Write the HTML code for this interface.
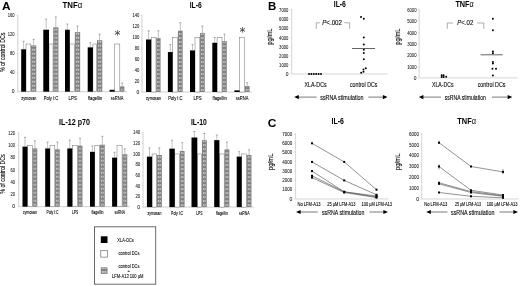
<!DOCTYPE html>
<html lang="en"><head><meta charset="utf-8"><title>Figure</title>
<style>
html,body{margin:0;padding:0;background:#fff;}
body{width:520px;height:286px;overflow:hidden;}
svg{display:block;font-family:"Liberation Sans", sans-serif;}
</style></head><body>
<svg width="520" height="286" viewBox="0 0 520 286">
<rect width="520" height="286" fill="#fff"/>
<g filter="url(#soft)">
<text x="1.90" y="9.60" font-size="10.8" text-anchor="start" font-weight="bold" fill="#000" textLength="8.60" lengthAdjust="spacingAndGlyphs">A</text>
<text x="268.00" y="9.60" font-size="10.8" text-anchor="start" font-weight="bold" fill="#000" textLength="8.30" lengthAdjust="spacingAndGlyphs">B</text>
<text x="267.70" y="127.30" font-size="10.6" text-anchor="start" font-weight="bold" fill="#000" textLength="8.60" lengthAdjust="spacingAndGlyphs">C</text>
<text x="62.50" y="7.50" font-size="8.3" font-weight="bold" fill="#000" textLength="19.80" lengthAdjust="spacingAndGlyphs">TNF<tspan font-weight="normal">&#945;</tspan></text>
<line x1="17.80" y1="14.90" x2="17.80" y2="91.70" stroke="#bdbdbd" stroke-width="0.7"/>
<line x1="17.80" y1="91.70" x2="127.00" y2="91.70" stroke="#bdbdbd" stroke-width="0.7"/>
<line x1="16.60" y1="91.70" x2="17.80" y2="91.70" stroke="#bdbdbd" stroke-width="0.5"/>
<text x="14.60" y="93.40" font-size="5.0" text-anchor="end" font-weight="normal" fill="#111" stroke="#111" stroke-width="0.04">0</text>
<line x1="16.60" y1="72.62" x2="17.80" y2="72.62" stroke="#bdbdbd" stroke-width="0.5"/>
<text x="14.60" y="74.33" font-size="5.0" text-anchor="end" font-weight="normal" fill="#111" textLength="4.53" lengthAdjust="spacingAndGlyphs" stroke="#111" stroke-width="0.04">40</text>
<line x1="16.60" y1="53.55" x2="17.80" y2="53.55" stroke="#bdbdbd" stroke-width="0.5"/>
<text x="14.60" y="55.25" font-size="5.0" text-anchor="end" font-weight="normal" fill="#111" textLength="4.53" lengthAdjust="spacingAndGlyphs" stroke="#111" stroke-width="0.04">80</text>
<line x1="16.60" y1="34.48" x2="17.80" y2="34.48" stroke="#bdbdbd" stroke-width="0.5"/>
<text x="14.60" y="36.18" font-size="5.0" text-anchor="end" font-weight="normal" fill="#111" textLength="6.80" lengthAdjust="spacingAndGlyphs" stroke="#111" stroke-width="0.04">120</text>
<line x1="16.60" y1="15.40" x2="17.80" y2="15.40" stroke="#bdbdbd" stroke-width="0.5"/>
<text x="14.60" y="17.10" font-size="5.0" text-anchor="end" font-weight="normal" fill="#111" textLength="6.80" lengthAdjust="spacingAndGlyphs" stroke="#111" stroke-width="0.04">160</text>
<rect x="26.00" y="44.01" width="4.80" height="47.69" fill="#fff" stroke="#6e6e6e" stroke-width="0.5"/>
<rect x="21.20" y="49.26" width="4.80" height="42.44" fill="#000"/>
<rect x="31.05" y="45.44" width="5.20" height="46.26" fill="#7f7f7f"/>
<rect x="32.05" y="88.70" width="3.20" height="2.00" fill="#c4c4c4"/>
<rect x="32.05" y="84.70" width="3.20" height="2.00" fill="#c4c4c4"/>
<rect x="32.05" y="80.70" width="3.20" height="2.00" fill="#c4c4c4"/>
<rect x="32.05" y="76.70" width="3.20" height="2.00" fill="#c4c4c4"/>
<rect x="32.05" y="72.70" width="3.20" height="2.00" fill="#c4c4c4"/>
<rect x="32.05" y="68.70" width="3.20" height="2.00" fill="#c4c4c4"/>
<rect x="32.05" y="64.70" width="3.20" height="2.00" fill="#c4c4c4"/>
<rect x="32.05" y="60.70" width="3.20" height="2.00" fill="#c4c4c4"/>
<rect x="32.05" y="56.70" width="3.20" height="2.00" fill="#c4c4c4"/>
<rect x="32.05" y="52.70" width="3.20" height="2.00" fill="#c4c4c4"/>
<rect x="32.05" y="48.70" width="3.20" height="2.00" fill="#c4c4c4"/>
<rect x="32.05" y="45.94" width="3.20" height="0.76" fill="#c4c4c4"/>
<rect x="33.35" y="45.44" width="0.6" height="46.26" fill="#8a8a8a"/>
<line x1="23.60" y1="49.26" x2="23.60" y2="41.30" stroke="#808080" stroke-width="0.5"/>
<line x1="22.60" y1="41.30" x2="24.60" y2="41.30" stroke="#707070" stroke-width="0.6"/>
<line x1="33.65" y1="45.44" x2="33.65" y2="39.40" stroke="#808080" stroke-width="0.5"/>
<line x1="32.65" y1="39.40" x2="34.65" y2="39.40" stroke="#707070" stroke-width="0.6"/>
<text x="28.85" y="100.00" font-size="5.0" text-anchor="middle" font-weight="normal" fill="#000" textLength="15.00" lengthAdjust="spacingAndGlyphs" stroke="#000" stroke-width="0.1">zymosan</text>
<rect x="49.00" y="44.01" width="4.00" height="47.69" fill="#fff" stroke="#6e6e6e" stroke-width="0.5"/>
<rect x="43.30" y="29.71" width="5.70" height="61.99" fill="#000"/>
<rect x="53.25" y="27.32" width="5.20" height="64.38" fill="#7f7f7f"/>
<rect x="54.25" y="88.70" width="3.20" height="2.00" fill="#c4c4c4"/>
<rect x="54.25" y="84.70" width="3.20" height="2.00" fill="#c4c4c4"/>
<rect x="54.25" y="80.70" width="3.20" height="2.00" fill="#c4c4c4"/>
<rect x="54.25" y="76.70" width="3.20" height="2.00" fill="#c4c4c4"/>
<rect x="54.25" y="72.70" width="3.20" height="2.00" fill="#c4c4c4"/>
<rect x="54.25" y="68.70" width="3.20" height="2.00" fill="#c4c4c4"/>
<rect x="54.25" y="64.70" width="3.20" height="2.00" fill="#c4c4c4"/>
<rect x="54.25" y="60.70" width="3.20" height="2.00" fill="#c4c4c4"/>
<rect x="54.25" y="56.70" width="3.20" height="2.00" fill="#c4c4c4"/>
<rect x="54.25" y="52.70" width="3.20" height="2.00" fill="#c4c4c4"/>
<rect x="54.25" y="48.70" width="3.20" height="2.00" fill="#c4c4c4"/>
<rect x="54.25" y="44.70" width="3.20" height="2.00" fill="#c4c4c4"/>
<rect x="54.25" y="40.70" width="3.20" height="2.00" fill="#c4c4c4"/>
<rect x="54.25" y="36.70" width="3.20" height="2.00" fill="#c4c4c4"/>
<rect x="54.25" y="32.70" width="3.20" height="2.00" fill="#c4c4c4"/>
<rect x="54.25" y="28.70" width="3.20" height="2.00" fill="#c4c4c4"/>
<rect x="55.55" y="27.32" width="0.6" height="64.38" fill="#8a8a8a"/>
<line x1="46.15" y1="29.71" x2="46.15" y2="19.20" stroke="#808080" stroke-width="0.5"/>
<line x1="45.15" y1="19.20" x2="47.15" y2="19.20" stroke="#707070" stroke-width="0.6"/>
<line x1="55.85" y1="27.32" x2="55.85" y2="17.00" stroke="#808080" stroke-width="0.5"/>
<line x1="54.85" y1="17.00" x2="56.85" y2="17.00" stroke="#707070" stroke-width="0.6"/>
<text x="51.00" y="100.00" font-size="5.0" text-anchor="middle" font-weight="normal" fill="#000" textLength="14.40" lengthAdjust="spacingAndGlyphs" stroke="#000" stroke-width="0.1">Poly I:C</text>
<rect x="69.80" y="44.01" width="4.80" height="47.69" fill="#fff" stroke="#6e6e6e" stroke-width="0.5"/>
<rect x="65.00" y="29.71" width="4.80" height="61.99" fill="#000"/>
<rect x="74.85" y="32.09" width="5.30" height="59.61" fill="#7f7f7f"/>
<rect x="75.85" y="88.70" width="3.30" height="2.00" fill="#c4c4c4"/>
<rect x="75.85" y="84.70" width="3.30" height="2.00" fill="#c4c4c4"/>
<rect x="75.85" y="80.70" width="3.30" height="2.00" fill="#c4c4c4"/>
<rect x="75.85" y="76.70" width="3.30" height="2.00" fill="#c4c4c4"/>
<rect x="75.85" y="72.70" width="3.30" height="2.00" fill="#c4c4c4"/>
<rect x="75.85" y="68.70" width="3.30" height="2.00" fill="#c4c4c4"/>
<rect x="75.85" y="64.70" width="3.30" height="2.00" fill="#c4c4c4"/>
<rect x="75.85" y="60.70" width="3.30" height="2.00" fill="#c4c4c4"/>
<rect x="75.85" y="56.70" width="3.30" height="2.00" fill="#c4c4c4"/>
<rect x="75.85" y="52.70" width="3.30" height="2.00" fill="#c4c4c4"/>
<rect x="75.85" y="48.70" width="3.30" height="2.00" fill="#c4c4c4"/>
<rect x="75.85" y="44.70" width="3.30" height="2.00" fill="#c4c4c4"/>
<rect x="75.85" y="40.70" width="3.30" height="2.00" fill="#c4c4c4"/>
<rect x="75.85" y="36.70" width="3.30" height="2.00" fill="#c4c4c4"/>
<rect x="75.85" y="32.70" width="3.30" height="2.00" fill="#c4c4c4"/>
<rect x="77.20" y="32.09" width="0.6" height="59.61" fill="#8a8a8a"/>
<line x1="67.40" y1="29.71" x2="67.40" y2="24.00" stroke="#808080" stroke-width="0.5"/>
<line x1="66.40" y1="24.00" x2="68.40" y2="24.00" stroke="#707070" stroke-width="0.6"/>
<line x1="77.50" y1="32.09" x2="77.50" y2="26.00" stroke="#808080" stroke-width="0.5"/>
<line x1="76.50" y1="26.00" x2="78.50" y2="26.00" stroke="#707070" stroke-width="0.6"/>
<text x="72.70" y="100.00" font-size="5.0" text-anchor="middle" font-weight="normal" fill="#000" textLength="8.20" lengthAdjust="spacingAndGlyphs" stroke="#000" stroke-width="0.1">LPS</text>
<rect x="92.90" y="44.01" width="3.80" height="47.69" fill="#fff" stroke="#6e6e6e" stroke-width="0.5"/>
<rect x="87.70" y="47.35" width="5.20" height="44.35" fill="#000"/>
<rect x="96.95" y="40.20" width="5.30" height="51.50" fill="#7f7f7f"/>
<rect x="97.95" y="88.70" width="3.30" height="2.00" fill="#c4c4c4"/>
<rect x="97.95" y="84.70" width="3.30" height="2.00" fill="#c4c4c4"/>
<rect x="97.95" y="80.70" width="3.30" height="2.00" fill="#c4c4c4"/>
<rect x="97.95" y="76.70" width="3.30" height="2.00" fill="#c4c4c4"/>
<rect x="97.95" y="72.70" width="3.30" height="2.00" fill="#c4c4c4"/>
<rect x="97.95" y="68.70" width="3.30" height="2.00" fill="#c4c4c4"/>
<rect x="97.95" y="64.70" width="3.30" height="2.00" fill="#c4c4c4"/>
<rect x="97.95" y="60.70" width="3.30" height="2.00" fill="#c4c4c4"/>
<rect x="97.95" y="56.70" width="3.30" height="2.00" fill="#c4c4c4"/>
<rect x="97.95" y="52.70" width="3.30" height="2.00" fill="#c4c4c4"/>
<rect x="97.95" y="48.70" width="3.30" height="2.00" fill="#c4c4c4"/>
<rect x="97.95" y="44.70" width="3.30" height="2.00" fill="#c4c4c4"/>
<rect x="97.95" y="40.70" width="3.30" height="2.00" fill="#c4c4c4"/>
<rect x="99.30" y="40.20" width="0.6" height="51.50" fill="#8a8a8a"/>
<line x1="90.30" y1="47.35" x2="90.30" y2="42.70" stroke="#808080" stroke-width="0.5"/>
<line x1="89.30" y1="42.70" x2="91.30" y2="42.70" stroke="#707070" stroke-width="0.6"/>
<line x1="99.60" y1="40.20" x2="99.60" y2="34.20" stroke="#808080" stroke-width="0.5"/>
<line x1="98.60" y1="34.20" x2="100.60" y2="34.20" stroke="#707070" stroke-width="0.6"/>
<text x="95.10" y="100.00" font-size="5.0" text-anchor="middle" font-weight="normal" fill="#000" textLength="14.20" lengthAdjust="spacingAndGlyphs" stroke="#000" stroke-width="0.1">flagellin</text>
<rect x="114.60" y="44.01" width="5.20" height="47.69" fill="#fff" stroke="#6e6e6e" stroke-width="0.5"/>
<rect x="109.60" y="89.79" width="5.00" height="1.91" fill="#000"/>
<rect x="120.05" y="86.45" width="4.30" height="5.25" fill="#7f7f7f"/>
<rect x="121.05" y="88.70" width="2.30" height="2.00" fill="#c4c4c4"/>
<rect x="121.90" y="86.45" width="0.6" height="5.25" fill="#8a8a8a"/>
<line x1="122.20" y1="86.45" x2="122.20" y2="83.00" stroke="#808080" stroke-width="0.5"/>
<line x1="121.20" y1="83.00" x2="123.20" y2="83.00" stroke="#707070" stroke-width="0.6"/>
<text x="117.10" y="100.00" font-size="5.0" text-anchor="middle" font-weight="normal" fill="#000" textLength="12.60" lengthAdjust="spacingAndGlyphs" stroke="#000" stroke-width="0.1">ssRNA</text>
<text x="117.5" y="38.6" font-size="12" text-anchor="middle" fill="#3a3a3a" font-family="DejaVu Sans, sans-serif">*</text>
<text x="5.30" y="52.30" font-size="6.4" text-anchor="middle" font-weight="normal" fill="#000" textLength="39.50" lengthAdjust="spacingAndGlyphs" transform="rotate(-90 5.30 52.30)" stroke="#000" stroke-width="0.1">% of control DCs</text>
<text x="189.70" y="7.60" font-size="8.3" font-weight="bold" fill="#000" textLength="12.00" lengthAdjust="spacingAndGlyphs">IL-6</text>
<line x1="142.00" y1="14.90" x2="142.00" y2="92.00" stroke="#bdbdbd" stroke-width="0.7"/>
<line x1="142.00" y1="92.00" x2="252.00" y2="92.00" stroke="#bdbdbd" stroke-width="0.7"/>
<line x1="140.80" y1="92.00" x2="142.00" y2="92.00" stroke="#bdbdbd" stroke-width="0.5"/>
<text x="139.40" y="93.70" font-size="5.0" text-anchor="end" font-weight="normal" fill="#111" stroke="#111" stroke-width="0.04">0</text>
<line x1="140.80" y1="81.06" x2="142.00" y2="81.06" stroke="#bdbdbd" stroke-width="0.5"/>
<text x="139.40" y="82.76" font-size="5.0" text-anchor="end" font-weight="normal" fill="#111" textLength="4.67" lengthAdjust="spacingAndGlyphs" stroke="#111" stroke-width="0.04">20</text>
<line x1="140.80" y1="70.11" x2="142.00" y2="70.11" stroke="#bdbdbd" stroke-width="0.5"/>
<text x="139.40" y="71.81" font-size="5.0" text-anchor="end" font-weight="normal" fill="#111" textLength="4.67" lengthAdjust="spacingAndGlyphs" stroke="#111" stroke-width="0.04">40</text>
<line x1="140.80" y1="59.17" x2="142.00" y2="59.17" stroke="#bdbdbd" stroke-width="0.5"/>
<text x="139.40" y="60.87" font-size="5.0" text-anchor="end" font-weight="normal" fill="#111" textLength="4.67" lengthAdjust="spacingAndGlyphs" stroke="#111" stroke-width="0.04">60</text>
<line x1="140.80" y1="48.23" x2="142.00" y2="48.23" stroke="#bdbdbd" stroke-width="0.5"/>
<text x="139.40" y="49.93" font-size="5.0" text-anchor="end" font-weight="normal" fill="#111" textLength="4.67" lengthAdjust="spacingAndGlyphs" stroke="#111" stroke-width="0.04">80</text>
<line x1="140.80" y1="37.29" x2="142.00" y2="37.29" stroke="#bdbdbd" stroke-width="0.5"/>
<text x="139.40" y="38.99" font-size="5.0" text-anchor="end" font-weight="normal" fill="#111" textLength="7.00" lengthAdjust="spacingAndGlyphs" stroke="#111" stroke-width="0.04">100</text>
<line x1="140.80" y1="26.34" x2="142.00" y2="26.34" stroke="#bdbdbd" stroke-width="0.5"/>
<text x="139.40" y="28.04" font-size="5.0" text-anchor="end" font-weight="normal" fill="#111" textLength="7.00" lengthAdjust="spacingAndGlyphs" stroke="#111" stroke-width="0.04">120</text>
<line x1="140.80" y1="15.40" x2="142.00" y2="15.40" stroke="#bdbdbd" stroke-width="0.5"/>
<text x="139.40" y="17.10" font-size="5.0" text-anchor="end" font-weight="normal" fill="#111" textLength="7.00" lengthAdjust="spacingAndGlyphs" stroke="#111" stroke-width="0.04">140</text>
<rect x="151.20" y="37.29" width="4.80" height="54.71" fill="#fff" stroke="#6e6e6e" stroke-width="0.5"/>
<rect x="146.00" y="39.47" width="5.20" height="52.53" fill="#000"/>
<rect x="156.25" y="38.00" width="4.30" height="54.00" fill="#7f7f7f"/>
<rect x="157.25" y="89.00" width="2.30" height="2.00" fill="#c4c4c4"/>
<rect x="157.25" y="85.00" width="2.30" height="2.00" fill="#c4c4c4"/>
<rect x="157.25" y="81.00" width="2.30" height="2.00" fill="#c4c4c4"/>
<rect x="157.25" y="77.00" width="2.30" height="2.00" fill="#c4c4c4"/>
<rect x="157.25" y="73.00" width="2.30" height="2.00" fill="#c4c4c4"/>
<rect x="157.25" y="69.00" width="2.30" height="2.00" fill="#c4c4c4"/>
<rect x="157.25" y="65.00" width="2.30" height="2.00" fill="#c4c4c4"/>
<rect x="157.25" y="61.00" width="2.30" height="2.00" fill="#c4c4c4"/>
<rect x="157.25" y="57.00" width="2.30" height="2.00" fill="#c4c4c4"/>
<rect x="157.25" y="53.00" width="2.30" height="2.00" fill="#c4c4c4"/>
<rect x="157.25" y="49.00" width="2.30" height="2.00" fill="#c4c4c4"/>
<rect x="157.25" y="45.00" width="2.30" height="2.00" fill="#c4c4c4"/>
<rect x="157.25" y="41.00" width="2.30" height="2.00" fill="#c4c4c4"/>
<rect x="157.25" y="38.50" width="2.30" height="0.50" fill="#c4c4c4"/>
<rect x="158.10" y="38.00" width="0.6" height="54.00" fill="#8a8a8a"/>
<line x1="148.60" y1="39.47" x2="148.60" y2="30.80" stroke="#808080" stroke-width="0.5"/>
<line x1="147.60" y1="30.80" x2="149.60" y2="30.80" stroke="#707070" stroke-width="0.6"/>
<line x1="158.40" y1="38.00" x2="158.40" y2="30.80" stroke="#808080" stroke-width="0.5"/>
<line x1="157.40" y1="30.80" x2="159.40" y2="30.80" stroke="#707070" stroke-width="0.6"/>
<text x="153.40" y="100.00" font-size="5.0" text-anchor="middle" font-weight="normal" fill="#000" textLength="15.00" lengthAdjust="spacingAndGlyphs" stroke="#000" stroke-width="0.1">zymosan</text>
<rect x="172.70" y="37.29" width="5.00" height="54.71" fill="#fff" stroke="#6e6e6e" stroke-width="0.5"/>
<rect x="167.90" y="52.06" width="4.80" height="39.94" fill="#000"/>
<rect x="177.95" y="30.72" width="4.70" height="61.28" fill="#7f7f7f"/>
<rect x="178.95" y="89.00" width="2.70" height="2.00" fill="#c4c4c4"/>
<rect x="178.95" y="85.00" width="2.70" height="2.00" fill="#c4c4c4"/>
<rect x="178.95" y="81.00" width="2.70" height="2.00" fill="#c4c4c4"/>
<rect x="178.95" y="77.00" width="2.70" height="2.00" fill="#c4c4c4"/>
<rect x="178.95" y="73.00" width="2.70" height="2.00" fill="#c4c4c4"/>
<rect x="178.95" y="69.00" width="2.70" height="2.00" fill="#c4c4c4"/>
<rect x="178.95" y="65.00" width="2.70" height="2.00" fill="#c4c4c4"/>
<rect x="178.95" y="61.00" width="2.70" height="2.00" fill="#c4c4c4"/>
<rect x="178.95" y="57.00" width="2.70" height="2.00" fill="#c4c4c4"/>
<rect x="178.95" y="53.00" width="2.70" height="2.00" fill="#c4c4c4"/>
<rect x="178.95" y="49.00" width="2.70" height="2.00" fill="#c4c4c4"/>
<rect x="178.95" y="45.00" width="2.70" height="2.00" fill="#c4c4c4"/>
<rect x="178.95" y="41.00" width="2.70" height="2.00" fill="#c4c4c4"/>
<rect x="178.95" y="37.00" width="2.70" height="2.00" fill="#c4c4c4"/>
<rect x="178.95" y="33.00" width="2.70" height="2.00" fill="#c4c4c4"/>
<rect x="180.00" y="30.72" width="0.6" height="61.28" fill="#8a8a8a"/>
<line x1="170.30" y1="52.06" x2="170.30" y2="44.60" stroke="#808080" stroke-width="0.5"/>
<line x1="169.30" y1="44.60" x2="171.30" y2="44.60" stroke="#707070" stroke-width="0.6"/>
<line x1="180.30" y1="30.72" x2="180.30" y2="22.70" stroke="#808080" stroke-width="0.5"/>
<line x1="179.30" y1="22.70" x2="181.30" y2="22.70" stroke="#707070" stroke-width="0.6"/>
<text x="175.40" y="100.00" font-size="5.0" text-anchor="middle" font-weight="normal" fill="#000" textLength="14.40" lengthAdjust="spacingAndGlyphs" stroke="#000" stroke-width="0.1">Poly I:C</text>
<rect x="195.00" y="37.29" width="4.80" height="54.71" fill="#fff" stroke="#6e6e6e" stroke-width="0.5"/>
<rect x="190.00" y="50.42" width="5.00" height="41.58" fill="#000"/>
<rect x="200.05" y="32.91" width="4.70" height="59.09" fill="#7f7f7f"/>
<rect x="201.05" y="89.00" width="2.70" height="2.00" fill="#c4c4c4"/>
<rect x="201.05" y="85.00" width="2.70" height="2.00" fill="#c4c4c4"/>
<rect x="201.05" y="81.00" width="2.70" height="2.00" fill="#c4c4c4"/>
<rect x="201.05" y="77.00" width="2.70" height="2.00" fill="#c4c4c4"/>
<rect x="201.05" y="73.00" width="2.70" height="2.00" fill="#c4c4c4"/>
<rect x="201.05" y="69.00" width="2.70" height="2.00" fill="#c4c4c4"/>
<rect x="201.05" y="65.00" width="2.70" height="2.00" fill="#c4c4c4"/>
<rect x="201.05" y="61.00" width="2.70" height="2.00" fill="#c4c4c4"/>
<rect x="201.05" y="57.00" width="2.70" height="2.00" fill="#c4c4c4"/>
<rect x="201.05" y="53.00" width="2.70" height="2.00" fill="#c4c4c4"/>
<rect x="201.05" y="49.00" width="2.70" height="2.00" fill="#c4c4c4"/>
<rect x="201.05" y="45.00" width="2.70" height="2.00" fill="#c4c4c4"/>
<rect x="201.05" y="41.00" width="2.70" height="2.00" fill="#c4c4c4"/>
<rect x="201.05" y="37.00" width="2.70" height="2.00" fill="#c4c4c4"/>
<rect x="201.05" y="33.41" width="2.70" height="1.59" fill="#c4c4c4"/>
<rect x="202.10" y="32.91" width="0.6" height="59.09" fill="#8a8a8a"/>
<line x1="192.50" y1="50.42" x2="192.50" y2="44.60" stroke="#808080" stroke-width="0.5"/>
<line x1="191.50" y1="44.60" x2="193.50" y2="44.60" stroke="#707070" stroke-width="0.6"/>
<line x1="202.40" y1="32.91" x2="202.40" y2="26.00" stroke="#808080" stroke-width="0.5"/>
<line x1="201.40" y1="26.00" x2="203.40" y2="26.00" stroke="#707070" stroke-width="0.6"/>
<text x="197.50" y="100.00" font-size="5.0" text-anchor="middle" font-weight="normal" fill="#000" textLength="8.20" lengthAdjust="spacingAndGlyphs" stroke="#000" stroke-width="0.1">LPS</text>
<rect x="217.10" y="37.29" width="4.90" height="54.71" fill="#fff" stroke="#6e6e6e" stroke-width="0.5"/>
<rect x="212.30" y="42.76" width="4.80" height="49.24" fill="#000"/>
<rect x="222.25" y="41.12" width="4.50" height="50.88" fill="#7f7f7f"/>
<rect x="223.25" y="89.00" width="2.50" height="2.00" fill="#c4c4c4"/>
<rect x="223.25" y="85.00" width="2.50" height="2.00" fill="#c4c4c4"/>
<rect x="223.25" y="81.00" width="2.50" height="2.00" fill="#c4c4c4"/>
<rect x="223.25" y="77.00" width="2.50" height="2.00" fill="#c4c4c4"/>
<rect x="223.25" y="73.00" width="2.50" height="2.00" fill="#c4c4c4"/>
<rect x="223.25" y="69.00" width="2.50" height="2.00" fill="#c4c4c4"/>
<rect x="223.25" y="65.00" width="2.50" height="2.00" fill="#c4c4c4"/>
<rect x="223.25" y="61.00" width="2.50" height="2.00" fill="#c4c4c4"/>
<rect x="223.25" y="57.00" width="2.50" height="2.00" fill="#c4c4c4"/>
<rect x="223.25" y="53.00" width="2.50" height="2.00" fill="#c4c4c4"/>
<rect x="223.25" y="49.00" width="2.50" height="2.00" fill="#c4c4c4"/>
<rect x="223.25" y="45.00" width="2.50" height="2.00" fill="#c4c4c4"/>
<rect x="223.25" y="41.62" width="2.50" height="1.38" fill="#c4c4c4"/>
<rect x="224.20" y="41.12" width="0.6" height="50.88" fill="#8a8a8a"/>
<line x1="214.70" y1="42.76" x2="214.70" y2="37.50" stroke="#808080" stroke-width="0.5"/>
<line x1="213.70" y1="37.50" x2="215.70" y2="37.50" stroke="#707070" stroke-width="0.6"/>
<line x1="224.50" y1="41.12" x2="224.50" y2="34.20" stroke="#808080" stroke-width="0.5"/>
<line x1="223.50" y1="34.20" x2="225.50" y2="34.20" stroke="#707070" stroke-width="0.6"/>
<text x="219.65" y="100.00" font-size="5.0" text-anchor="middle" font-weight="normal" fill="#000" textLength="14.20" lengthAdjust="spacingAndGlyphs" stroke="#000" stroke-width="0.1">flagellin</text>
<rect x="239.60" y="37.29" width="5.00" height="54.71" fill="#fff" stroke="#6e6e6e" stroke-width="0.5"/>
<rect x="234.40" y="90.36" width="5.20" height="1.64" fill="#000"/>
<rect x="244.85" y="85.98" width="4.70" height="6.02" fill="#7f7f7f"/>
<rect x="245.85" y="89.00" width="2.70" height="2.00" fill="#c4c4c4"/>
<rect x="245.85" y="86.48" width="2.70" height="0.52" fill="#c4c4c4"/>
<rect x="246.90" y="85.98" width="0.6" height="6.02" fill="#8a8a8a"/>
<line x1="247.20" y1="85.98" x2="247.20" y2="82.70" stroke="#808080" stroke-width="0.5"/>
<line x1="246.20" y1="82.70" x2="248.20" y2="82.70" stroke="#707070" stroke-width="0.6"/>
<text x="242.10" y="100.00" font-size="5.0" text-anchor="middle" font-weight="normal" fill="#000" textLength="12.60" lengthAdjust="spacingAndGlyphs" stroke="#000" stroke-width="0.1">ssRNA</text>
<text x="242.5" y="35.6" font-size="12" text-anchor="middle" fill="#3a3a3a" font-family="DejaVu Sans, sans-serif">*</text>
<text x="59.10" y="124.50" font-size="8.3" font-weight="bold" fill="#000" textLength="30.80" lengthAdjust="spacingAndGlyphs">IL-12 p70</text>
<line x1="18.70" y1="132.60" x2="18.70" y2="206.70" stroke="#bdbdbd" stroke-width="0.7"/>
<line x1="18.70" y1="206.70" x2="130.00" y2="206.70" stroke="#bdbdbd" stroke-width="0.7"/>
<line x1="17.50" y1="206.70" x2="18.70" y2="206.70" stroke="#bdbdbd" stroke-width="0.5"/>
<text x="15.10" y="208.40" font-size="5.0" text-anchor="end" font-weight="normal" fill="#111" stroke="#111" stroke-width="0.04">0</text>
<line x1="17.50" y1="194.43" x2="18.70" y2="194.43" stroke="#bdbdbd" stroke-width="0.5"/>
<text x="15.10" y="196.13" font-size="5.0" text-anchor="end" font-weight="normal" fill="#111" textLength="4.53" lengthAdjust="spacingAndGlyphs" stroke="#111" stroke-width="0.04">20</text>
<line x1="17.50" y1="182.17" x2="18.70" y2="182.17" stroke="#bdbdbd" stroke-width="0.5"/>
<text x="15.10" y="183.87" font-size="5.0" text-anchor="end" font-weight="normal" fill="#111" textLength="4.53" lengthAdjust="spacingAndGlyphs" stroke="#111" stroke-width="0.04">40</text>
<line x1="17.50" y1="169.90" x2="18.70" y2="169.90" stroke="#bdbdbd" stroke-width="0.5"/>
<text x="15.10" y="171.60" font-size="5.0" text-anchor="end" font-weight="normal" fill="#111" textLength="4.53" lengthAdjust="spacingAndGlyphs" stroke="#111" stroke-width="0.04">60</text>
<line x1="17.50" y1="157.63" x2="18.70" y2="157.63" stroke="#bdbdbd" stroke-width="0.5"/>
<text x="15.10" y="159.33" font-size="5.0" text-anchor="end" font-weight="normal" fill="#111" textLength="4.53" lengthAdjust="spacingAndGlyphs" stroke="#111" stroke-width="0.04">80</text>
<line x1="17.50" y1="145.37" x2="18.70" y2="145.37" stroke="#bdbdbd" stroke-width="0.5"/>
<text x="15.10" y="147.07" font-size="5.0" text-anchor="end" font-weight="normal" fill="#111" textLength="6.80" lengthAdjust="spacingAndGlyphs" stroke="#111" stroke-width="0.04">100</text>
<line x1="17.50" y1="133.10" x2="18.70" y2="133.10" stroke="#bdbdbd" stroke-width="0.5"/>
<text x="15.10" y="134.80" font-size="5.0" text-anchor="end" font-weight="normal" fill="#111" textLength="6.80" lengthAdjust="spacingAndGlyphs" stroke="#111" stroke-width="0.04">120</text>
<rect x="27.50" y="145.37" width="4.80" height="61.33" fill="#fff" stroke="#6e6e6e" stroke-width="0.5"/>
<rect x="22.50" y="146.59" width="5.00" height="60.11" fill="#000"/>
<rect x="32.55" y="148.43" width="4.70" height="58.27" fill="#7f7f7f"/>
<rect x="33.55" y="203.70" width="2.70" height="2.00" fill="#c4c4c4"/>
<rect x="33.55" y="199.70" width="2.70" height="2.00" fill="#c4c4c4"/>
<rect x="33.55" y="195.70" width="2.70" height="2.00" fill="#c4c4c4"/>
<rect x="33.55" y="191.70" width="2.70" height="2.00" fill="#c4c4c4"/>
<rect x="33.55" y="187.70" width="2.70" height="2.00" fill="#c4c4c4"/>
<rect x="33.55" y="183.70" width="2.70" height="2.00" fill="#c4c4c4"/>
<rect x="33.55" y="179.70" width="2.70" height="2.00" fill="#c4c4c4"/>
<rect x="33.55" y="175.70" width="2.70" height="2.00" fill="#c4c4c4"/>
<rect x="33.55" y="171.70" width="2.70" height="2.00" fill="#c4c4c4"/>
<rect x="33.55" y="167.70" width="2.70" height="2.00" fill="#c4c4c4"/>
<rect x="33.55" y="163.70" width="2.70" height="2.00" fill="#c4c4c4"/>
<rect x="33.55" y="159.70" width="2.70" height="2.00" fill="#c4c4c4"/>
<rect x="33.55" y="155.70" width="2.70" height="2.00" fill="#c4c4c4"/>
<rect x="33.55" y="151.70" width="2.70" height="2.00" fill="#c4c4c4"/>
<rect x="33.55" y="148.93" width="2.70" height="0.77" fill="#c4c4c4"/>
<rect x="34.60" y="148.43" width="0.6" height="58.27" fill="#8a8a8a"/>
<line x1="25.00" y1="146.59" x2="25.00" y2="137.30" stroke="#808080" stroke-width="0.5"/>
<line x1="24.00" y1="137.30" x2="26.00" y2="137.30" stroke="#707070" stroke-width="0.6"/>
<line x1="34.90" y1="148.43" x2="34.90" y2="140.80" stroke="#808080" stroke-width="0.5"/>
<line x1="33.90" y1="140.80" x2="35.90" y2="140.80" stroke="#707070" stroke-width="0.6"/>
<text x="30.00" y="214.20" font-size="4.8" text-anchor="middle" font-weight="normal" fill="#000" textLength="13.80" lengthAdjust="spacingAndGlyphs" stroke="#000" stroke-width="0.1">zymosan</text>
<rect x="50.00" y="145.37" width="4.80" height="61.33" fill="#fff" stroke="#6e6e6e" stroke-width="0.5"/>
<rect x="45.20" y="148.43" width="4.80" height="58.27" fill="#000"/>
<rect x="55.05" y="149.35" width="4.70" height="57.35" fill="#7f7f7f"/>
<rect x="56.05" y="203.70" width="2.70" height="2.00" fill="#c4c4c4"/>
<rect x="56.05" y="199.70" width="2.70" height="2.00" fill="#c4c4c4"/>
<rect x="56.05" y="195.70" width="2.70" height="2.00" fill="#c4c4c4"/>
<rect x="56.05" y="191.70" width="2.70" height="2.00" fill="#c4c4c4"/>
<rect x="56.05" y="187.70" width="2.70" height="2.00" fill="#c4c4c4"/>
<rect x="56.05" y="183.70" width="2.70" height="2.00" fill="#c4c4c4"/>
<rect x="56.05" y="179.70" width="2.70" height="2.00" fill="#c4c4c4"/>
<rect x="56.05" y="175.70" width="2.70" height="2.00" fill="#c4c4c4"/>
<rect x="56.05" y="171.70" width="2.70" height="2.00" fill="#c4c4c4"/>
<rect x="56.05" y="167.70" width="2.70" height="2.00" fill="#c4c4c4"/>
<rect x="56.05" y="163.70" width="2.70" height="2.00" fill="#c4c4c4"/>
<rect x="56.05" y="159.70" width="2.70" height="2.00" fill="#c4c4c4"/>
<rect x="56.05" y="155.70" width="2.70" height="2.00" fill="#c4c4c4"/>
<rect x="56.05" y="151.70" width="2.70" height="2.00" fill="#c4c4c4"/>
<rect x="57.10" y="149.35" width="0.6" height="57.35" fill="#8a8a8a"/>
<line x1="47.60" y1="148.43" x2="47.60" y2="142.10" stroke="#808080" stroke-width="0.5"/>
<line x1="46.60" y1="142.10" x2="48.60" y2="142.10" stroke="#707070" stroke-width="0.6"/>
<line x1="57.40" y1="149.35" x2="57.40" y2="142.10" stroke="#808080" stroke-width="0.5"/>
<line x1="56.40" y1="142.10" x2="58.40" y2="142.10" stroke="#707070" stroke-width="0.6"/>
<text x="52.60" y="214.20" font-size="4.8" text-anchor="middle" font-weight="normal" fill="#000" textLength="12.00" lengthAdjust="spacingAndGlyphs" stroke="#000" stroke-width="0.1">Poly I:C</text>
<rect x="72.30" y="145.37" width="5.20" height="61.33" fill="#fff" stroke="#6e6e6e" stroke-width="0.5"/>
<rect x="67.30" y="148.43" width="5.00" height="58.27" fill="#000"/>
<rect x="77.75" y="145.67" width="4.70" height="61.03" fill="#7f7f7f"/>
<rect x="78.75" y="203.70" width="2.70" height="2.00" fill="#c4c4c4"/>
<rect x="78.75" y="199.70" width="2.70" height="2.00" fill="#c4c4c4"/>
<rect x="78.75" y="195.70" width="2.70" height="2.00" fill="#c4c4c4"/>
<rect x="78.75" y="191.70" width="2.70" height="2.00" fill="#c4c4c4"/>
<rect x="78.75" y="187.70" width="2.70" height="2.00" fill="#c4c4c4"/>
<rect x="78.75" y="183.70" width="2.70" height="2.00" fill="#c4c4c4"/>
<rect x="78.75" y="179.70" width="2.70" height="2.00" fill="#c4c4c4"/>
<rect x="78.75" y="175.70" width="2.70" height="2.00" fill="#c4c4c4"/>
<rect x="78.75" y="171.70" width="2.70" height="2.00" fill="#c4c4c4"/>
<rect x="78.75" y="167.70" width="2.70" height="2.00" fill="#c4c4c4"/>
<rect x="78.75" y="163.70" width="2.70" height="2.00" fill="#c4c4c4"/>
<rect x="78.75" y="159.70" width="2.70" height="2.00" fill="#c4c4c4"/>
<rect x="78.75" y="155.70" width="2.70" height="2.00" fill="#c4c4c4"/>
<rect x="78.75" y="151.70" width="2.70" height="2.00" fill="#c4c4c4"/>
<rect x="78.75" y="147.70" width="2.70" height="2.00" fill="#c4c4c4"/>
<rect x="79.80" y="145.67" width="0.6" height="61.03" fill="#8a8a8a"/>
<line x1="69.80" y1="148.43" x2="69.80" y2="140.20" stroke="#808080" stroke-width="0.5"/>
<line x1="68.80" y1="140.20" x2="70.80" y2="140.20" stroke="#707070" stroke-width="0.6"/>
<line x1="80.10" y1="145.67" x2="80.10" y2="138.30" stroke="#808080" stroke-width="0.5"/>
<line x1="79.10" y1="138.30" x2="81.10" y2="138.30" stroke="#707070" stroke-width="0.6"/>
<text x="75.00" y="214.20" font-size="4.8" text-anchor="middle" font-weight="normal" fill="#000" textLength="6.20" lengthAdjust="spacingAndGlyphs" stroke="#000" stroke-width="0.1">LPS</text>
<rect x="94.80" y="145.37" width="4.80" height="61.33" fill="#fff" stroke="#6e6e6e" stroke-width="0.5"/>
<rect x="90.00" y="151.81" width="4.80" height="54.89" fill="#000"/>
<rect x="99.85" y="144.75" width="4.90" height="61.95" fill="#7f7f7f"/>
<rect x="100.85" y="203.70" width="2.90" height="2.00" fill="#c4c4c4"/>
<rect x="100.85" y="199.70" width="2.90" height="2.00" fill="#c4c4c4"/>
<rect x="100.85" y="195.70" width="2.90" height="2.00" fill="#c4c4c4"/>
<rect x="100.85" y="191.70" width="2.90" height="2.00" fill="#c4c4c4"/>
<rect x="100.85" y="187.70" width="2.90" height="2.00" fill="#c4c4c4"/>
<rect x="100.85" y="183.70" width="2.90" height="2.00" fill="#c4c4c4"/>
<rect x="100.85" y="179.70" width="2.90" height="2.00" fill="#c4c4c4"/>
<rect x="100.85" y="175.70" width="2.90" height="2.00" fill="#c4c4c4"/>
<rect x="100.85" y="171.70" width="2.90" height="2.00" fill="#c4c4c4"/>
<rect x="100.85" y="167.70" width="2.90" height="2.00" fill="#c4c4c4"/>
<rect x="100.85" y="163.70" width="2.90" height="2.00" fill="#c4c4c4"/>
<rect x="100.85" y="159.70" width="2.90" height="2.00" fill="#c4c4c4"/>
<rect x="100.85" y="155.70" width="2.90" height="2.00" fill="#c4c4c4"/>
<rect x="100.85" y="151.70" width="2.90" height="2.00" fill="#c4c4c4"/>
<rect x="100.85" y="147.70" width="2.90" height="2.00" fill="#c4c4c4"/>
<rect x="100.85" y="145.25" width="2.90" height="0.45" fill="#c4c4c4"/>
<rect x="102.00" y="144.75" width="0.6" height="61.95" fill="#8a8a8a"/>
<line x1="92.40" y1="151.81" x2="92.40" y2="146.00" stroke="#808080" stroke-width="0.5"/>
<line x1="91.40" y1="146.00" x2="93.40" y2="146.00" stroke="#707070" stroke-width="0.6"/>
<line x1="102.30" y1="144.75" x2="102.30" y2="136.30" stroke="#808080" stroke-width="0.5"/>
<line x1="101.30" y1="136.30" x2="103.30" y2="136.30" stroke="#707070" stroke-width="0.6"/>
<text x="97.50" y="214.20" font-size="4.8" text-anchor="middle" font-weight="normal" fill="#000" textLength="12.00" lengthAdjust="spacingAndGlyphs" stroke="#000" stroke-width="0.1">flagellin</text>
<rect x="117.00" y="145.37" width="5.10" height="61.33" fill="#fff" stroke="#6e6e6e" stroke-width="0.5"/>
<rect x="112.10" y="157.63" width="4.90" height="49.07" fill="#000"/>
<rect x="122.35" y="154.26" width="4.90" height="52.44" fill="#7f7f7f"/>
<rect x="123.35" y="203.70" width="2.90" height="2.00" fill="#c4c4c4"/>
<rect x="123.35" y="199.70" width="2.90" height="2.00" fill="#c4c4c4"/>
<rect x="123.35" y="195.70" width="2.90" height="2.00" fill="#c4c4c4"/>
<rect x="123.35" y="191.70" width="2.90" height="2.00" fill="#c4c4c4"/>
<rect x="123.35" y="187.70" width="2.90" height="2.00" fill="#c4c4c4"/>
<rect x="123.35" y="183.70" width="2.90" height="2.00" fill="#c4c4c4"/>
<rect x="123.35" y="179.70" width="2.90" height="2.00" fill="#c4c4c4"/>
<rect x="123.35" y="175.70" width="2.90" height="2.00" fill="#c4c4c4"/>
<rect x="123.35" y="171.70" width="2.90" height="2.00" fill="#c4c4c4"/>
<rect x="123.35" y="167.70" width="2.90" height="2.00" fill="#c4c4c4"/>
<rect x="123.35" y="163.70" width="2.90" height="2.00" fill="#c4c4c4"/>
<rect x="123.35" y="159.70" width="2.90" height="2.00" fill="#c4c4c4"/>
<rect x="123.35" y="155.70" width="2.90" height="2.00" fill="#c4c4c4"/>
<rect x="124.50" y="154.26" width="0.6" height="52.44" fill="#8a8a8a"/>
<line x1="114.55" y1="157.63" x2="114.55" y2="152.30" stroke="#808080" stroke-width="0.5"/>
<line x1="113.55" y1="152.30" x2="115.55" y2="152.30" stroke="#707070" stroke-width="0.6"/>
<line x1="124.80" y1="154.26" x2="124.80" y2="148.80" stroke="#808080" stroke-width="0.5"/>
<line x1="123.80" y1="148.80" x2="125.80" y2="148.80" stroke="#707070" stroke-width="0.6"/>
<text x="119.80" y="214.20" font-size="4.8" text-anchor="middle" font-weight="normal" fill="#000" textLength="10.50" lengthAdjust="spacingAndGlyphs" stroke="#000" stroke-width="0.1">ssRNA</text>
<text x="5.30" y="174.00" font-size="6.4" text-anchor="middle" font-weight="normal" fill="#000" textLength="39.50" lengthAdjust="spacingAndGlyphs" transform="rotate(-90 5.30 174.00)" stroke="#000" stroke-width="0.1">% of control DCs</text>
<text x="190.90" y="124.70" font-size="8.3" font-weight="bold" fill="#000" textLength="15.80" lengthAdjust="spacingAndGlyphs">IL-10</text>
<line x1="143.00" y1="132.20" x2="143.00" y2="207.10" stroke="#bdbdbd" stroke-width="0.7"/>
<line x1="143.00" y1="207.10" x2="254.00" y2="207.10" stroke="#bdbdbd" stroke-width="0.7"/>
<line x1="141.80" y1="207.10" x2="143.00" y2="207.10" stroke="#bdbdbd" stroke-width="0.5"/>
<text x="140.10" y="208.80" font-size="5.0" text-anchor="end" font-weight="normal" fill="#111" stroke="#111" stroke-width="0.04">0</text>
<line x1="141.80" y1="196.47" x2="143.00" y2="196.47" stroke="#bdbdbd" stroke-width="0.5"/>
<text x="140.10" y="198.17" font-size="5.0" text-anchor="end" font-weight="normal" fill="#111" textLength="4.67" lengthAdjust="spacingAndGlyphs" stroke="#111" stroke-width="0.04">20</text>
<line x1="141.80" y1="185.84" x2="143.00" y2="185.84" stroke="#bdbdbd" stroke-width="0.5"/>
<text x="140.10" y="187.54" font-size="5.0" text-anchor="end" font-weight="normal" fill="#111" textLength="4.67" lengthAdjust="spacingAndGlyphs" stroke="#111" stroke-width="0.04">40</text>
<line x1="141.80" y1="175.21" x2="143.00" y2="175.21" stroke="#bdbdbd" stroke-width="0.5"/>
<text x="140.10" y="176.91" font-size="5.0" text-anchor="end" font-weight="normal" fill="#111" textLength="4.67" lengthAdjust="spacingAndGlyphs" stroke="#111" stroke-width="0.04">60</text>
<line x1="141.80" y1="164.59" x2="143.00" y2="164.59" stroke="#bdbdbd" stroke-width="0.5"/>
<text x="140.10" y="166.29" font-size="5.0" text-anchor="end" font-weight="normal" fill="#111" textLength="4.67" lengthAdjust="spacingAndGlyphs" stroke="#111" stroke-width="0.04">80</text>
<line x1="141.80" y1="153.96" x2="143.00" y2="153.96" stroke="#bdbdbd" stroke-width="0.5"/>
<text x="140.10" y="155.66" font-size="5.0" text-anchor="end" font-weight="normal" fill="#111" textLength="7.00" lengthAdjust="spacingAndGlyphs" stroke="#111" stroke-width="0.04">100</text>
<line x1="141.80" y1="143.33" x2="143.00" y2="143.33" stroke="#bdbdbd" stroke-width="0.5"/>
<text x="140.10" y="145.03" font-size="5.0" text-anchor="end" font-weight="normal" fill="#111" textLength="7.00" lengthAdjust="spacingAndGlyphs" stroke="#111" stroke-width="0.04">120</text>
<line x1="141.80" y1="132.70" x2="143.00" y2="132.70" stroke="#bdbdbd" stroke-width="0.5"/>
<text x="140.10" y="134.40" font-size="5.0" text-anchor="end" font-weight="normal" fill="#111" textLength="7.00" lengthAdjust="spacingAndGlyphs" stroke="#111" stroke-width="0.04">140</text>
<rect x="152.10" y="153.96" width="4.40" height="53.14" fill="#fff" stroke="#6e6e6e" stroke-width="0.5"/>
<rect x="146.90" y="156.61" width="5.20" height="50.49" fill="#000"/>
<rect x="156.75" y="155.02" width="5.10" height="52.08" fill="#7f7f7f"/>
<rect x="157.75" y="204.10" width="3.10" height="2.00" fill="#c4c4c4"/>
<rect x="157.75" y="200.10" width="3.10" height="2.00" fill="#c4c4c4"/>
<rect x="157.75" y="196.10" width="3.10" height="2.00" fill="#c4c4c4"/>
<rect x="157.75" y="192.10" width="3.10" height="2.00" fill="#c4c4c4"/>
<rect x="157.75" y="188.10" width="3.10" height="2.00" fill="#c4c4c4"/>
<rect x="157.75" y="184.10" width="3.10" height="2.00" fill="#c4c4c4"/>
<rect x="157.75" y="180.10" width="3.10" height="2.00" fill="#c4c4c4"/>
<rect x="157.75" y="176.10" width="3.10" height="2.00" fill="#c4c4c4"/>
<rect x="157.75" y="172.10" width="3.10" height="2.00" fill="#c4c4c4"/>
<rect x="157.75" y="168.10" width="3.10" height="2.00" fill="#c4c4c4"/>
<rect x="157.75" y="164.10" width="3.10" height="2.00" fill="#c4c4c4"/>
<rect x="157.75" y="160.10" width="3.10" height="2.00" fill="#c4c4c4"/>
<rect x="157.75" y="156.10" width="3.10" height="2.00" fill="#c4c4c4"/>
<rect x="159.00" y="155.02" width="0.6" height="52.08" fill="#8a8a8a"/>
<line x1="149.50" y1="156.61" x2="149.50" y2="147.90" stroke="#808080" stroke-width="0.5"/>
<line x1="148.50" y1="147.90" x2="150.50" y2="147.90" stroke="#707070" stroke-width="0.6"/>
<line x1="159.30" y1="155.02" x2="159.30" y2="147.90" stroke="#808080" stroke-width="0.5"/>
<line x1="158.30" y1="147.90" x2="160.30" y2="147.90" stroke="#707070" stroke-width="0.6"/>
<text x="154.50" y="215.20" font-size="4.8" text-anchor="middle" font-weight="normal" fill="#000" textLength="13.80" lengthAdjust="spacingAndGlyphs" stroke="#000" stroke-width="0.1">zymosan</text>
<rect x="174.80" y="153.96" width="4.80" height="53.14" fill="#fff" stroke="#6e6e6e" stroke-width="0.5"/>
<rect x="169.40" y="148.64" width="5.40" height="58.46" fill="#000"/>
<rect x="179.85" y="151.03" width="4.70" height="56.07" fill="#7f7f7f"/>
<rect x="180.85" y="204.10" width="2.70" height="2.00" fill="#c4c4c4"/>
<rect x="180.85" y="200.10" width="2.70" height="2.00" fill="#c4c4c4"/>
<rect x="180.85" y="196.10" width="2.70" height="2.00" fill="#c4c4c4"/>
<rect x="180.85" y="192.10" width="2.70" height="2.00" fill="#c4c4c4"/>
<rect x="180.85" y="188.10" width="2.70" height="2.00" fill="#c4c4c4"/>
<rect x="180.85" y="184.10" width="2.70" height="2.00" fill="#c4c4c4"/>
<rect x="180.85" y="180.10" width="2.70" height="2.00" fill="#c4c4c4"/>
<rect x="180.85" y="176.10" width="2.70" height="2.00" fill="#c4c4c4"/>
<rect x="180.85" y="172.10" width="2.70" height="2.00" fill="#c4c4c4"/>
<rect x="180.85" y="168.10" width="2.70" height="2.00" fill="#c4c4c4"/>
<rect x="180.85" y="164.10" width="2.70" height="2.00" fill="#c4c4c4"/>
<rect x="180.85" y="160.10" width="2.70" height="2.00" fill="#c4c4c4"/>
<rect x="180.85" y="156.10" width="2.70" height="2.00" fill="#c4c4c4"/>
<rect x="180.85" y="152.10" width="2.70" height="2.00" fill="#c4c4c4"/>
<rect x="181.90" y="151.03" width="0.6" height="56.07" fill="#8a8a8a"/>
<line x1="172.10" y1="148.64" x2="172.10" y2="140.20" stroke="#808080" stroke-width="0.5"/>
<line x1="171.10" y1="140.20" x2="173.10" y2="140.20" stroke="#707070" stroke-width="0.6"/>
<line x1="182.20" y1="151.03" x2="182.20" y2="142.70" stroke="#808080" stroke-width="0.5"/>
<line x1="181.20" y1="142.70" x2="183.20" y2="142.70" stroke="#707070" stroke-width="0.6"/>
<text x="177.10" y="215.20" font-size="4.8" text-anchor="middle" font-weight="normal" fill="#000" textLength="12.00" lengthAdjust="spacingAndGlyphs" stroke="#000" stroke-width="0.1">Poly I:C</text>
<rect x="197.30" y="153.96" width="4.40" height="53.14" fill="#fff" stroke="#6e6e6e" stroke-width="0.5"/>
<rect x="191.50" y="137.48" width="5.80" height="69.62" fill="#000"/>
<rect x="201.95" y="140.14" width="4.80" height="66.96" fill="#7f7f7f"/>
<rect x="202.95" y="204.10" width="2.80" height="2.00" fill="#c4c4c4"/>
<rect x="202.95" y="200.10" width="2.80" height="2.00" fill="#c4c4c4"/>
<rect x="202.95" y="196.10" width="2.80" height="2.00" fill="#c4c4c4"/>
<rect x="202.95" y="192.10" width="2.80" height="2.00" fill="#c4c4c4"/>
<rect x="202.95" y="188.10" width="2.80" height="2.00" fill="#c4c4c4"/>
<rect x="202.95" y="184.10" width="2.80" height="2.00" fill="#c4c4c4"/>
<rect x="202.95" y="180.10" width="2.80" height="2.00" fill="#c4c4c4"/>
<rect x="202.95" y="176.10" width="2.80" height="2.00" fill="#c4c4c4"/>
<rect x="202.95" y="172.10" width="2.80" height="2.00" fill="#c4c4c4"/>
<rect x="202.95" y="168.10" width="2.80" height="2.00" fill="#c4c4c4"/>
<rect x="202.95" y="164.10" width="2.80" height="2.00" fill="#c4c4c4"/>
<rect x="202.95" y="160.10" width="2.80" height="2.00" fill="#c4c4c4"/>
<rect x="202.95" y="156.10" width="2.80" height="2.00" fill="#c4c4c4"/>
<rect x="202.95" y="152.10" width="2.80" height="2.00" fill="#c4c4c4"/>
<rect x="202.95" y="148.10" width="2.80" height="2.00" fill="#c4c4c4"/>
<rect x="202.95" y="144.10" width="2.80" height="2.00" fill="#c4c4c4"/>
<rect x="202.95" y="140.64" width="2.80" height="1.46" fill="#c4c4c4"/>
<rect x="204.05" y="140.14" width="0.6" height="66.96" fill="#8a8a8a"/>
<line x1="194.40" y1="137.48" x2="194.40" y2="131.50" stroke="#808080" stroke-width="0.5"/>
<line x1="193.40" y1="131.50" x2="195.40" y2="131.50" stroke="#707070" stroke-width="0.6"/>
<line x1="204.35" y1="140.14" x2="204.35" y2="133.50" stroke="#808080" stroke-width="0.5"/>
<line x1="203.35" y1="133.50" x2="205.35" y2="133.50" stroke="#707070" stroke-width="0.6"/>
<text x="199.25" y="215.20" font-size="4.8" text-anchor="middle" font-weight="normal" fill="#000" textLength="6.20" lengthAdjust="spacingAndGlyphs" stroke="#000" stroke-width="0.1">LPS</text>
<rect x="219.40" y="153.96" width="4.80" height="53.14" fill="#fff" stroke="#6e6e6e" stroke-width="0.5"/>
<rect x="214.20" y="140.14" width="5.20" height="66.96" fill="#000"/>
<rect x="224.45" y="149.44" width="4.90" height="57.66" fill="#7f7f7f"/>
<rect x="225.45" y="204.10" width="2.90" height="2.00" fill="#c4c4c4"/>
<rect x="225.45" y="200.10" width="2.90" height="2.00" fill="#c4c4c4"/>
<rect x="225.45" y="196.10" width="2.90" height="2.00" fill="#c4c4c4"/>
<rect x="225.45" y="192.10" width="2.90" height="2.00" fill="#c4c4c4"/>
<rect x="225.45" y="188.10" width="2.90" height="2.00" fill="#c4c4c4"/>
<rect x="225.45" y="184.10" width="2.90" height="2.00" fill="#c4c4c4"/>
<rect x="225.45" y="180.10" width="2.90" height="2.00" fill="#c4c4c4"/>
<rect x="225.45" y="176.10" width="2.90" height="2.00" fill="#c4c4c4"/>
<rect x="225.45" y="172.10" width="2.90" height="2.00" fill="#c4c4c4"/>
<rect x="225.45" y="168.10" width="2.90" height="2.00" fill="#c4c4c4"/>
<rect x="225.45" y="164.10" width="2.90" height="2.00" fill="#c4c4c4"/>
<rect x="225.45" y="160.10" width="2.90" height="2.00" fill="#c4c4c4"/>
<rect x="225.45" y="156.10" width="2.90" height="2.00" fill="#c4c4c4"/>
<rect x="225.45" y="152.10" width="2.90" height="2.00" fill="#c4c4c4"/>
<rect x="225.45" y="149.94" width="2.90" height="0.16" fill="#c4c4c4"/>
<rect x="226.60" y="149.44" width="0.6" height="57.66" fill="#8a8a8a"/>
<line x1="216.80" y1="140.14" x2="216.80" y2="135.00" stroke="#808080" stroke-width="0.5"/>
<line x1="215.80" y1="135.00" x2="217.80" y2="135.00" stroke="#707070" stroke-width="0.6"/>
<line x1="226.90" y1="149.44" x2="226.90" y2="142.10" stroke="#808080" stroke-width="0.5"/>
<line x1="225.90" y1="142.10" x2="227.90" y2="142.10" stroke="#707070" stroke-width="0.6"/>
<text x="221.90" y="215.20" font-size="4.8" text-anchor="middle" font-weight="normal" fill="#000" textLength="12.00" lengthAdjust="spacingAndGlyphs" stroke="#000" stroke-width="0.1">flagellin</text>
<rect x="241.70" y="153.96" width="4.80" height="53.14" fill="#fff" stroke="#6e6e6e" stroke-width="0.5"/>
<rect x="236.70" y="156.61" width="5.00" height="50.49" fill="#000"/>
<rect x="246.75" y="155.02" width="4.70" height="52.08" fill="#7f7f7f"/>
<rect x="247.75" y="204.10" width="2.70" height="2.00" fill="#c4c4c4"/>
<rect x="247.75" y="200.10" width="2.70" height="2.00" fill="#c4c4c4"/>
<rect x="247.75" y="196.10" width="2.70" height="2.00" fill="#c4c4c4"/>
<rect x="247.75" y="192.10" width="2.70" height="2.00" fill="#c4c4c4"/>
<rect x="247.75" y="188.10" width="2.70" height="2.00" fill="#c4c4c4"/>
<rect x="247.75" y="184.10" width="2.70" height="2.00" fill="#c4c4c4"/>
<rect x="247.75" y="180.10" width="2.70" height="2.00" fill="#c4c4c4"/>
<rect x="247.75" y="176.10" width="2.70" height="2.00" fill="#c4c4c4"/>
<rect x="247.75" y="172.10" width="2.70" height="2.00" fill="#c4c4c4"/>
<rect x="247.75" y="168.10" width="2.70" height="2.00" fill="#c4c4c4"/>
<rect x="247.75" y="164.10" width="2.70" height="2.00" fill="#c4c4c4"/>
<rect x="247.75" y="160.10" width="2.70" height="2.00" fill="#c4c4c4"/>
<rect x="247.75" y="156.10" width="2.70" height="2.00" fill="#c4c4c4"/>
<rect x="248.80" y="155.02" width="0.6" height="52.08" fill="#8a8a8a"/>
<line x1="239.20" y1="156.61" x2="239.20" y2="151.70" stroke="#808080" stroke-width="0.5"/>
<line x1="238.20" y1="151.70" x2="240.20" y2="151.70" stroke="#707070" stroke-width="0.6"/>
<line x1="249.10" y1="155.02" x2="249.10" y2="149.80" stroke="#808080" stroke-width="0.5"/>
<line x1="248.10" y1="149.80" x2="250.10" y2="149.80" stroke="#707070" stroke-width="0.6"/>
<text x="244.20" y="215.20" font-size="4.8" text-anchor="middle" font-weight="normal" fill="#000" textLength="10.50" lengthAdjust="spacingAndGlyphs" stroke="#000" stroke-width="0.1">ssRNA</text>
<rect x="94.50" y="226.80" width="61.20" height="57.40" fill="#fff" stroke="#5a5a5a" stroke-width="0.9"/>
<rect x="100.80" y="236.30" width="6.70" height="6.70" fill="#000"/>
<rect x="100.80" y="250.50" width="6.70" height="6.60" fill="#fff" stroke="#555" stroke-width="0.6"/>
<rect x="100.80" y="267.40" width="6.70" height="6.50" fill="#7f7f7f"/>
<rect x="101.80" y="270.90" width="4.70" height="2.00" fill="#c4c4c4"/>
<rect x="101.80" y="267.90" width="4.70" height="1.00" fill="#c4c4c4"/>
<rect x="103.85" y="267.40" width="0.6" height="6.50" fill="#8a8a8a"/>
<text x="125.60" y="241.50" font-size="5.2" text-anchor="middle" font-weight="normal" fill="#111" textLength="16.50" lengthAdjust="spacingAndGlyphs" stroke="#111" stroke-width="0.1">XLA-DCs</text>
<text x="129.00" y="254.90" font-size="5.2" text-anchor="middle" font-weight="normal" fill="#111" textLength="20.90" lengthAdjust="spacingAndGlyphs" stroke="#111" stroke-width="0.1">control DCs</text>
<text x="129.00" y="267.50" font-size="5.2" text-anchor="middle" font-weight="normal" fill="#111" textLength="20.90" lengthAdjust="spacingAndGlyphs" stroke="#111" stroke-width="0.1">control DCs</text>
<text x="128.70" y="271.80" font-size="4.2" text-anchor="middle" font-weight="normal" fill="#111" stroke="#111" stroke-width="0.1">+</text>
<text x="127.70" y="278.20" font-size="5.2" text-anchor="middle" font-weight="normal" fill="#111" textLength="31.60" lengthAdjust="spacingAndGlyphs" stroke="#111" stroke-width="0.1">LFM-A13 100 &#181;M</text>
<text x="333.75" y="6.90" font-size="8.3" font-weight="bold" fill="#000" textLength="12.20" lengthAdjust="spacingAndGlyphs">IL-6</text>
<line x1="291.70" y1="9.00" x2="291.70" y2="74.00" stroke="#c4c4c4" stroke-width="0.7"/>
<line x1="291.70" y1="74.00" x2="387.50" y2="74.00" stroke="#c4c4c4" stroke-width="0.7"/>
<line x1="290.50" y1="74.00" x2="291.70" y2="74.00" stroke="#c4c4c4" stroke-width="0.5"/>
<text x="288.40" y="76.10" font-size="4.9" text-anchor="end" font-weight="normal" fill="#111" stroke="#111" stroke-width="0.04">0</text>
<line x1="290.50" y1="64.86" x2="291.70" y2="64.86" stroke="#c4c4c4" stroke-width="0.5"/>
<text x="288.40" y="66.96" font-size="4.9" text-anchor="end" font-weight="normal" fill="#111" textLength="9.30" lengthAdjust="spacingAndGlyphs" stroke="#111" stroke-width="0.04">1000</text>
<line x1="290.50" y1="55.71" x2="291.70" y2="55.71" stroke="#c4c4c4" stroke-width="0.5"/>
<text x="288.40" y="57.81" font-size="4.9" text-anchor="end" font-weight="normal" fill="#111" textLength="9.30" lengthAdjust="spacingAndGlyphs" stroke="#111" stroke-width="0.04">2000</text>
<line x1="290.50" y1="46.57" x2="291.70" y2="46.57" stroke="#c4c4c4" stroke-width="0.5"/>
<text x="288.40" y="48.67" font-size="4.9" text-anchor="end" font-weight="normal" fill="#111" textLength="9.30" lengthAdjust="spacingAndGlyphs" stroke="#111" stroke-width="0.04">3000</text>
<line x1="290.50" y1="37.43" x2="291.70" y2="37.43" stroke="#c4c4c4" stroke-width="0.5"/>
<text x="288.40" y="39.53" font-size="4.9" text-anchor="end" font-weight="normal" fill="#111" textLength="9.30" lengthAdjust="spacingAndGlyphs" stroke="#111" stroke-width="0.04">4000</text>
<line x1="290.50" y1="28.29" x2="291.70" y2="28.29" stroke="#c4c4c4" stroke-width="0.5"/>
<text x="288.40" y="30.39" font-size="4.9" text-anchor="end" font-weight="normal" fill="#111" textLength="9.30" lengthAdjust="spacingAndGlyphs" stroke="#111" stroke-width="0.04">5000</text>
<line x1="290.50" y1="19.14" x2="291.70" y2="19.14" stroke="#c4c4c4" stroke-width="0.5"/>
<text x="288.40" y="21.24" font-size="4.9" text-anchor="end" font-weight="normal" fill="#111" textLength="9.30" lengthAdjust="spacingAndGlyphs" stroke="#111" stroke-width="0.04">6000</text>
<line x1="290.50" y1="10.00" x2="291.70" y2="10.00" stroke="#c4c4c4" stroke-width="0.5"/>
<text x="288.40" y="12.10" font-size="4.9" text-anchor="end" font-weight="normal" fill="#111" textLength="9.30" lengthAdjust="spacingAndGlyphs" stroke="#111" stroke-width="0.04">7000</text>
<text x="272.50" y="36.60" font-size="6.4" text-anchor="middle" font-weight="normal" fill="#000" textLength="16.20" lengthAdjust="spacingAndGlyphs" transform="rotate(-90 272.50 36.60)" stroke="#000" stroke-width="0.1">pg/mL</text>
<text x="304.60" y="86.90" font-size="6.6" text-anchor="start" font-weight="normal" fill="#000" textLength="22.00" lengthAdjust="spacingAndGlyphs" stroke="#000" stroke-width="0.1">XLA-DCs</text>
<text x="350.00" y="86.90" font-size="6.6" text-anchor="start" font-weight="normal" fill="#000" textLength="27.30" lengthAdjust="spacingAndGlyphs" stroke="#000" stroke-width="0.1">control DCs</text>
<path d="M316.3 28.8 V22.8 H319.8" fill="none" stroke="#777" stroke-width="0.6"/>
<path d="M344.2 22.8 H349.6 V28.8" fill="none" stroke="#777" stroke-width="0.6"/>
<text x="322.2" y="24.7" font-size="6.6" fill="#000" stroke="#000" stroke-width="0.1" textLength="19.8" lengthAdjust="spacingAndGlyphs"><tspan font-style="italic">P</tspan>&lt;.002</text>
<circle cx="309.0" cy="74.0" r="1.0" fill="#000"/>
<circle cx="311.4" cy="74.0" r="1.0" fill="#000"/>
<circle cx="313.8" cy="74.0" r="1.0" fill="#000"/>
<circle cx="316.2" cy="74.0" r="1.0" fill="#000"/>
<circle cx="318.6" cy="74.0" r="1.0" fill="#000"/>
<circle cx="321.0" cy="74.0" r="1.0" fill="#000"/>
<circle cx="361.0" cy="17.0" r="1.0" fill="#000"/>
<circle cx="363.8" cy="18.8" r="1.0" fill="#000"/>
<circle cx="363.8" cy="37.5" r="1.0" fill="#000"/>
<circle cx="363.8" cy="44.6" r="1.0" fill="#000"/>
<circle cx="363.8" cy="49.8" r="1.0" fill="#000"/>
<circle cx="363.8" cy="52.9" r="1.0" fill="#000"/>
<circle cx="363.8" cy="59.2" r="1.0" fill="#000"/>
<circle cx="365.8" cy="68.3" r="1.0" fill="#000"/>
<circle cx="363.5" cy="69.4" r="1.0" fill="#000"/>
<circle cx="363.5" cy="71.7" r="1.0" fill="#000"/>
<circle cx="361.2" cy="72.7" r="1.0" fill="#000"/>
<line x1="352.00" y1="48.50" x2="375.00" y2="48.50" stroke="#222" stroke-width="0.7"/>
<line x1="316.7" y1="97.1" x2="296.2" y2="97.1" stroke="#222" stroke-width="0.6"/>
<path d="M294.2 97.1 l4.6 -2.1 v4.2 z" fill="#000"/>
<line x1="368.3" y1="97.1" x2="385.5" y2="97.1" stroke="#222" stroke-width="0.6"/>
<path d="M387.5 97.1 l-4.6 -2.1 v4.2 z" fill="#000"/>
<text x="320.30" y="100.40" font-size="6.8" text-anchor="start" font-weight="normal" fill="#000" textLength="43.20" lengthAdjust="spacingAndGlyphs" stroke="#000" stroke-width="0.1">ssRNA stimulation</text>
<text x="455.40" y="6.90" font-size="8.3" font-weight="bold" fill="#000" textLength="18.40" lengthAdjust="spacingAndGlyphs">TNF<tspan font-weight="normal">&#945;</tspan></text>
<line x1="419.20" y1="9.00" x2="419.20" y2="77.90" stroke="#c4c4c4" stroke-width="0.7"/>
<line x1="419.20" y1="77.90" x2="517.50" y2="77.90" stroke="#c4c4c4" stroke-width="0.7"/>
<line x1="418.00" y1="77.90" x2="419.20" y2="77.90" stroke="#c4c4c4" stroke-width="0.5"/>
<text x="416.50" y="80.00" font-size="4.9" text-anchor="end" font-weight="normal" fill="#111" stroke="#111" stroke-width="0.04">0</text>
<line x1="418.00" y1="66.58" x2="419.20" y2="66.58" stroke="#c4c4c4" stroke-width="0.5"/>
<text x="416.50" y="68.68" font-size="4.9" text-anchor="end" font-weight="normal" fill="#111" textLength="9.30" lengthAdjust="spacingAndGlyphs" stroke="#111" stroke-width="0.04">1000</text>
<line x1="418.00" y1="55.27" x2="419.20" y2="55.27" stroke="#c4c4c4" stroke-width="0.5"/>
<text x="416.50" y="57.37" font-size="4.9" text-anchor="end" font-weight="normal" fill="#111" textLength="9.30" lengthAdjust="spacingAndGlyphs" stroke="#111" stroke-width="0.04">2000</text>
<line x1="418.00" y1="43.95" x2="419.20" y2="43.95" stroke="#c4c4c4" stroke-width="0.5"/>
<text x="416.50" y="46.05" font-size="4.9" text-anchor="end" font-weight="normal" fill="#111" textLength="9.30" lengthAdjust="spacingAndGlyphs" stroke="#111" stroke-width="0.04">3000</text>
<line x1="418.00" y1="32.63" x2="419.20" y2="32.63" stroke="#c4c4c4" stroke-width="0.5"/>
<text x="416.50" y="34.73" font-size="4.9" text-anchor="end" font-weight="normal" fill="#111" textLength="9.30" lengthAdjust="spacingAndGlyphs" stroke="#111" stroke-width="0.04">4000</text>
<line x1="418.00" y1="21.32" x2="419.20" y2="21.32" stroke="#c4c4c4" stroke-width="0.5"/>
<text x="416.50" y="23.42" font-size="4.9" text-anchor="end" font-weight="normal" fill="#111" textLength="9.30" lengthAdjust="spacingAndGlyphs" stroke="#111" stroke-width="0.04">5000</text>
<line x1="418.00" y1="10.00" x2="419.20" y2="10.00" stroke="#c4c4c4" stroke-width="0.5"/>
<text x="416.50" y="12.10" font-size="4.9" text-anchor="end" font-weight="normal" fill="#111" textLength="9.30" lengthAdjust="spacingAndGlyphs" stroke="#111" stroke-width="0.04">6000</text>
<text x="400.00" y="36.60" font-size="6.4" text-anchor="middle" font-weight="normal" fill="#000" textLength="16.20" lengthAdjust="spacingAndGlyphs" transform="rotate(-90 400.00 36.60)" stroke="#000" stroke-width="0.1">pg/mL</text>
<text x="432.00" y="86.90" font-size="6.6" text-anchor="start" font-weight="normal" fill="#000" textLength="21.50" lengthAdjust="spacingAndGlyphs" stroke="#000" stroke-width="0.1">XLA-DCs</text>
<text x="477.70" y="86.90" font-size="6.6" text-anchor="start" font-weight="normal" fill="#000" textLength="27.70" lengthAdjust="spacingAndGlyphs" stroke="#000" stroke-width="0.1">control DCs</text>
<path d="M447.3 28.8 V23.0 H453.0" fill="none" stroke="#777" stroke-width="0.6"/>
<path d="M477.1 23.0 H483.8 V28.8" fill="none" stroke="#777" stroke-width="0.6"/>
<text x="457.3" y="24.7" font-size="6.6" fill="#000" stroke="#000" stroke-width="0.1" textLength="16.0" lengthAdjust="spacingAndGlyphs"><tspan font-style="italic">P</tspan>&lt;.02</text>
<circle cx="441.7" cy="75.2" r="1.0" fill="#000"/>
<circle cx="443.6" cy="75.2" r="1.0" fill="#000"/>
<circle cx="441.7" cy="77.0" r="1.0" fill="#000"/>
<circle cx="443.6" cy="77.0" r="1.0" fill="#000"/>
<circle cx="446.2" cy="76.8" r="1.0" fill="#000"/>
<circle cx="492.9" cy="18.7" r="1.0" fill="#000"/>
<circle cx="492.9" cy="30.2" r="1.0" fill="#000"/>
<circle cx="492.9" cy="51.5" r="1.0" fill="#000"/>
<circle cx="492.9" cy="53.3" r="1.0" fill="#000"/>
<circle cx="492.9" cy="61.9" r="1.0" fill="#000"/>
<circle cx="492.9" cy="63.5" r="1.0" fill="#000"/>
<circle cx="492.5" cy="68.7" r="1.0" fill="#000"/>
<circle cx="496.0" cy="68.7" r="1.0" fill="#000"/>
<circle cx="492.9" cy="75.6" r="1.0" fill="#000"/>
<line x1="480.60" y1="54.80" x2="502.70" y2="54.80" stroke="#222" stroke-width="0.7"/>
<line x1="441.0" y1="97.1" x2="420.8" y2="97.1" stroke="#222" stroke-width="0.6"/>
<path d="M418.8 97.1 l4.6 -2.1 v4.2 z" fill="#000"/>
<line x1="492.0" y1="97.1" x2="510.29999999999995" y2="97.1" stroke="#222" stroke-width="0.6"/>
<path d="M512.3 97.1 l-4.6 -2.1 v4.2 z" fill="#000"/>
<text x="444.80" y="100.40" font-size="6.8" text-anchor="start" font-weight="normal" fill="#000" textLength="41.00" lengthAdjust="spacingAndGlyphs" stroke="#000" stroke-width="0.1">ssRNA stimulation</text>
<text x="331.50" y="123.80" font-size="8.3" font-weight="bold" fill="#000" textLength="12.30" lengthAdjust="spacingAndGlyphs">IL-6</text>
<line x1="295.60" y1="133.00" x2="295.60" y2="199.00" stroke="#c4c4c4" stroke-width="0.7"/>
<line x1="295.60" y1="199.00" x2="388.50" y2="199.00" stroke="#c4c4c4" stroke-width="0.7"/>
<line x1="294.40" y1="199.00" x2="295.60" y2="199.00" stroke="#c4c4c4" stroke-width="0.5"/>
<text x="292.20" y="200.70" font-size="5.0" text-anchor="end" font-weight="normal" fill="#111" stroke="#111" stroke-width="0.04">0</text>
<line x1="294.40" y1="189.71" x2="295.60" y2="189.71" stroke="#c4c4c4" stroke-width="0.5"/>
<text x="292.20" y="191.41" font-size="5.0" text-anchor="end" font-weight="normal" fill="#111" textLength="10.00" lengthAdjust="spacingAndGlyphs" stroke="#111" stroke-width="0.04">1000</text>
<line x1="294.40" y1="180.43" x2="295.60" y2="180.43" stroke="#c4c4c4" stroke-width="0.5"/>
<text x="292.20" y="182.13" font-size="5.0" text-anchor="end" font-weight="normal" fill="#111" textLength="10.00" lengthAdjust="spacingAndGlyphs" stroke="#111" stroke-width="0.04">2000</text>
<line x1="294.40" y1="171.14" x2="295.60" y2="171.14" stroke="#c4c4c4" stroke-width="0.5"/>
<text x="292.20" y="172.84" font-size="5.0" text-anchor="end" font-weight="normal" fill="#111" textLength="10.00" lengthAdjust="spacingAndGlyphs" stroke="#111" stroke-width="0.04">3000</text>
<line x1="294.40" y1="161.86" x2="295.60" y2="161.86" stroke="#c4c4c4" stroke-width="0.5"/>
<text x="292.20" y="163.56" font-size="5.0" text-anchor="end" font-weight="normal" fill="#111" textLength="10.00" lengthAdjust="spacingAndGlyphs" stroke="#111" stroke-width="0.04">4000</text>
<line x1="294.40" y1="152.57" x2="295.60" y2="152.57" stroke="#c4c4c4" stroke-width="0.5"/>
<text x="292.20" y="154.27" font-size="5.0" text-anchor="end" font-weight="normal" fill="#111" textLength="10.00" lengthAdjust="spacingAndGlyphs" stroke="#111" stroke-width="0.04">5000</text>
<line x1="294.40" y1="143.29" x2="295.60" y2="143.29" stroke="#c4c4c4" stroke-width="0.5"/>
<text x="292.20" y="144.99" font-size="5.0" text-anchor="end" font-weight="normal" fill="#111" textLength="10.00" lengthAdjust="spacingAndGlyphs" stroke="#111" stroke-width="0.04">6000</text>
<line x1="294.40" y1="134.00" x2="295.60" y2="134.00" stroke="#c4c4c4" stroke-width="0.5"/>
<text x="292.20" y="135.70" font-size="5.0" text-anchor="end" font-weight="normal" fill="#111" textLength="10.00" lengthAdjust="spacingAndGlyphs" stroke="#111" stroke-width="0.04">7000</text>
<text x="273.50" y="161.80" font-size="6.8" text-anchor="middle" font-weight="normal" fill="#000" textLength="16.50" lengthAdjust="spacingAndGlyphs" transform="rotate(-90 273.50 161.80)" stroke="#000" stroke-width="0.1">pg/mL</text>
<polyline points="312.0,143.3 344.2,161.9 376.5,189.7" fill="none" stroke="#4a4a4a" stroke-width="0.6"/>
<rect x="311.0" y="142.3" width="2" height="2" fill="#000"/>
<rect x="343.2" y="160.9" width="2" height="2" fill="#000"/>
<rect x="375.5" y="188.7" width="2" height="2" fill="#000"/>
<polyline points="312.0,161.9 344.2,180.4 376.5,194.8" fill="none" stroke="#4a4a4a" stroke-width="0.6"/>
<rect x="311.0" y="160.9" width="2" height="2" fill="#000"/>
<rect x="343.2" y="179.4" width="2" height="2" fill="#000"/>
<rect x="375.5" y="193.8" width="2" height="2" fill="#000"/>
<polyline points="312.0,171.1 344.2,191.8 376.5,196.0" fill="none" stroke="#4a4a4a" stroke-width="0.6"/>
<rect x="311.0" y="170.1" width="2" height="2" fill="#000"/>
<rect x="343.2" y="190.8" width="2" height="2" fill="#000"/>
<rect x="375.5" y="195.0" width="2" height="2" fill="#000"/>
<polyline points="312.0,175.8 344.2,191.9 376.5,197.0" fill="none" stroke="#4a4a4a" stroke-width="0.6"/>
<rect x="311.0" y="174.8" width="2" height="2" fill="#000"/>
<rect x="343.2" y="190.9" width="2" height="2" fill="#000"/>
<rect x="375.5" y="196.0" width="2" height="2" fill="#000"/>
<polyline points="312.0,177.6 344.2,192.5 376.5,197.6" fill="none" stroke="#4a4a4a" stroke-width="0.6"/>
<rect x="311.0" y="176.6" width="2" height="2" fill="#000"/>
<rect x="343.2" y="191.5" width="2" height="2" fill="#000"/>
<rect x="375.5" y="196.6" width="2" height="2" fill="#000"/>
<text x="297.50" y="205.90" font-size="5.0" text-anchor="start" font-weight="normal" fill="#000" textLength="23.10" lengthAdjust="spacingAndGlyphs" stroke="#000" stroke-width="0.1">No LFM-A13</text>
<text x="327.30" y="205.90" font-size="5.0" text-anchor="start" font-weight="normal" fill="#000" textLength="28.10" lengthAdjust="spacingAndGlyphs" stroke="#000" stroke-width="0.1">25 &#181;M LFM-A13</text>
<text x="361.50" y="205.90" font-size="5.0" text-anchor="start" font-weight="normal" fill="#000" textLength="30.50" lengthAdjust="spacingAndGlyphs" stroke="#000" stroke-width="0.1">100 &#181;M LFM-A13</text>
<line x1="317.7" y1="212.0" x2="298.0" y2="212.0" stroke="#222" stroke-width="0.6"/>
<path d="M296.0 212.0 l4.6 -2.1 v4.2 z" fill="#000"/>
<line x1="369.6" y1="212.0" x2="386.0" y2="212.0" stroke="#222" stroke-width="0.6"/>
<path d="M388.0 212.0 l-4.6 -2.1 v4.2 z" fill="#000"/>
<text x="322.00" y="215.30" font-size="6.8" text-anchor="start" font-weight="normal" fill="#000" textLength="42.40" lengthAdjust="spacingAndGlyphs" stroke="#000" stroke-width="0.1">ssRNA stimulation</text>
<line x1="439.00" y1="164.20" x2="439.00" y2="169.40" stroke="#333" stroke-width="0.5"/>
<line x1="503.00" y1="169.00" x2="503.00" y2="174.20" stroke="#333" stroke-width="0.5"/>
<line x1="439.00" y1="140.60" x2="439.00" y2="144.00" stroke="#333" stroke-width="0.5"/>
<text x="457.30" y="123.80" font-size="8.3" font-weight="bold" fill="#000" textLength="18.70" lengthAdjust="spacingAndGlyphs">TNF<tspan font-weight="normal">&#945;</tspan></text>
<line x1="421.70" y1="133.00" x2="421.70" y2="199.00" stroke="#c4c4c4" stroke-width="0.7"/>
<line x1="421.70" y1="199.00" x2="518.50" y2="199.00" stroke="#c4c4c4" stroke-width="0.7"/>
<line x1="420.50" y1="199.00" x2="421.70" y2="199.00" stroke="#c4c4c4" stroke-width="0.5"/>
<text x="419.00" y="200.70" font-size="5.0" text-anchor="end" font-weight="normal" fill="#111" stroke="#111" stroke-width="0.04">0</text>
<line x1="420.50" y1="188.17" x2="421.70" y2="188.17" stroke="#c4c4c4" stroke-width="0.5"/>
<text x="419.00" y="189.87" font-size="5.0" text-anchor="end" font-weight="normal" fill="#111" textLength="10.00" lengthAdjust="spacingAndGlyphs" stroke="#111" stroke-width="0.04">1000</text>
<line x1="420.50" y1="177.33" x2="421.70" y2="177.33" stroke="#c4c4c4" stroke-width="0.5"/>
<text x="419.00" y="179.03" font-size="5.0" text-anchor="end" font-weight="normal" fill="#111" textLength="10.00" lengthAdjust="spacingAndGlyphs" stroke="#111" stroke-width="0.04">2000</text>
<line x1="420.50" y1="166.50" x2="421.70" y2="166.50" stroke="#c4c4c4" stroke-width="0.5"/>
<text x="419.00" y="168.20" font-size="5.0" text-anchor="end" font-weight="normal" fill="#111" textLength="10.00" lengthAdjust="spacingAndGlyphs" stroke="#111" stroke-width="0.04">3000</text>
<line x1="420.50" y1="155.67" x2="421.70" y2="155.67" stroke="#c4c4c4" stroke-width="0.5"/>
<text x="419.00" y="157.37" font-size="5.0" text-anchor="end" font-weight="normal" fill="#111" textLength="10.00" lengthAdjust="spacingAndGlyphs" stroke="#111" stroke-width="0.04">4000</text>
<line x1="420.50" y1="144.83" x2="421.70" y2="144.83" stroke="#c4c4c4" stroke-width="0.5"/>
<text x="419.00" y="146.53" font-size="5.0" text-anchor="end" font-weight="normal" fill="#111" textLength="10.00" lengthAdjust="spacingAndGlyphs" stroke="#111" stroke-width="0.04">5000</text>
<line x1="420.50" y1="134.00" x2="421.70" y2="134.00" stroke="#c4c4c4" stroke-width="0.5"/>
<text x="419.00" y="135.70" font-size="5.0" text-anchor="end" font-weight="normal" fill="#111" textLength="10.00" lengthAdjust="spacingAndGlyphs" stroke="#111" stroke-width="0.04">6000</text>
<text x="400.40" y="161.80" font-size="6.8" text-anchor="middle" font-weight="normal" fill="#000" textLength="16.50" lengthAdjust="spacingAndGlyphs" transform="rotate(-90 400.40 161.80)" stroke="#000" stroke-width="0.1">pg/mL</text>
<polyline points="439.0,142.7 471.0,166.5 503.0,171.9" fill="none" stroke="#4a4a4a" stroke-width="0.6"/>
<rect x="438.0" y="141.7" width="2" height="2" fill="#000"/>
<rect x="470.0" y="165.5" width="2" height="2" fill="#000"/>
<rect x="502.0" y="170.9" width="2" height="2" fill="#000"/>
<polyline points="439.0,166.5 471.0,190.3 503.0,195.0" fill="none" stroke="#4a4a4a" stroke-width="0.6"/>
<rect x="438.0" y="165.5" width="2" height="2" fill="#000"/>
<rect x="470.0" y="189.3" width="2" height="2" fill="#000"/>
<rect x="502.0" y="194.0" width="2" height="2" fill="#000"/>
<polyline points="439.0,182.8 471.0,191.6 503.0,195.8" fill="none" stroke="#4a4a4a" stroke-width="0.6"/>
<rect x="438.0" y="181.8" width="2" height="2" fill="#000"/>
<rect x="470.0" y="190.6" width="2" height="2" fill="#000"/>
<rect x="502.0" y="194.8" width="2" height="2" fill="#000"/>
<polyline points="439.0,183.8 471.0,192.5 503.0,196.3" fill="none" stroke="#4a4a4a" stroke-width="0.6"/>
<rect x="438.0" y="182.8" width="2" height="2" fill="#000"/>
<rect x="470.0" y="191.5" width="2" height="2" fill="#000"/>
<rect x="502.0" y="195.3" width="2" height="2" fill="#000"/>
<polyline points="439.0,192.5 471.0,196.3 503.0,197.8" fill="none" stroke="#4a4a4a" stroke-width="0.6"/>
<rect x="438.0" y="191.5" width="2" height="2" fill="#000"/>
<rect x="470.0" y="195.3" width="2" height="2" fill="#000"/>
<rect x="502.0" y="196.8" width="2" height="2" fill="#000"/>
<text x="424.20" y="205.90" font-size="5.0" text-anchor="start" font-weight="normal" fill="#000" textLength="23.10" lengthAdjust="spacingAndGlyphs" stroke="#000" stroke-width="0.1">No LFM-A13</text>
<text x="455.00" y="205.90" font-size="5.0" text-anchor="start" font-weight="normal" fill="#000" textLength="26.00" lengthAdjust="spacingAndGlyphs" stroke="#000" stroke-width="0.1">25 &#181;M LFM-A13</text>
<text x="486.70" y="205.90" font-size="5.0" text-anchor="start" font-weight="normal" fill="#000" textLength="30.80" lengthAdjust="spacingAndGlyphs" stroke="#000" stroke-width="0.1">100 &#181;M LFM-A13</text>
<line x1="447.3" y1="212.0" x2="428.2" y2="212.0" stroke="#222" stroke-width="0.6"/>
<path d="M426.2 212.0 l4.6 -2.1 v4.2 z" fill="#000"/>
<line x1="499.6" y1="212.0" x2="516.0" y2="212.0" stroke="#222" stroke-width="0.6"/>
<path d="M518.0 212.0 l-4.6 -2.1 v4.2 z" fill="#000"/>
<text x="451.00" y="215.30" font-size="6.8" text-anchor="start" font-weight="normal" fill="#000" textLength="43.40" lengthAdjust="spacingAndGlyphs" stroke="#000" stroke-width="0.1">ssRNA stimulation</text>
</g>
<filter id="soft" x="0" y="0" width="520" height="286" filterUnits="userSpaceOnUse"><feGaussianBlur stdDeviation="0.5"/></filter>
</svg>
</body></html>
